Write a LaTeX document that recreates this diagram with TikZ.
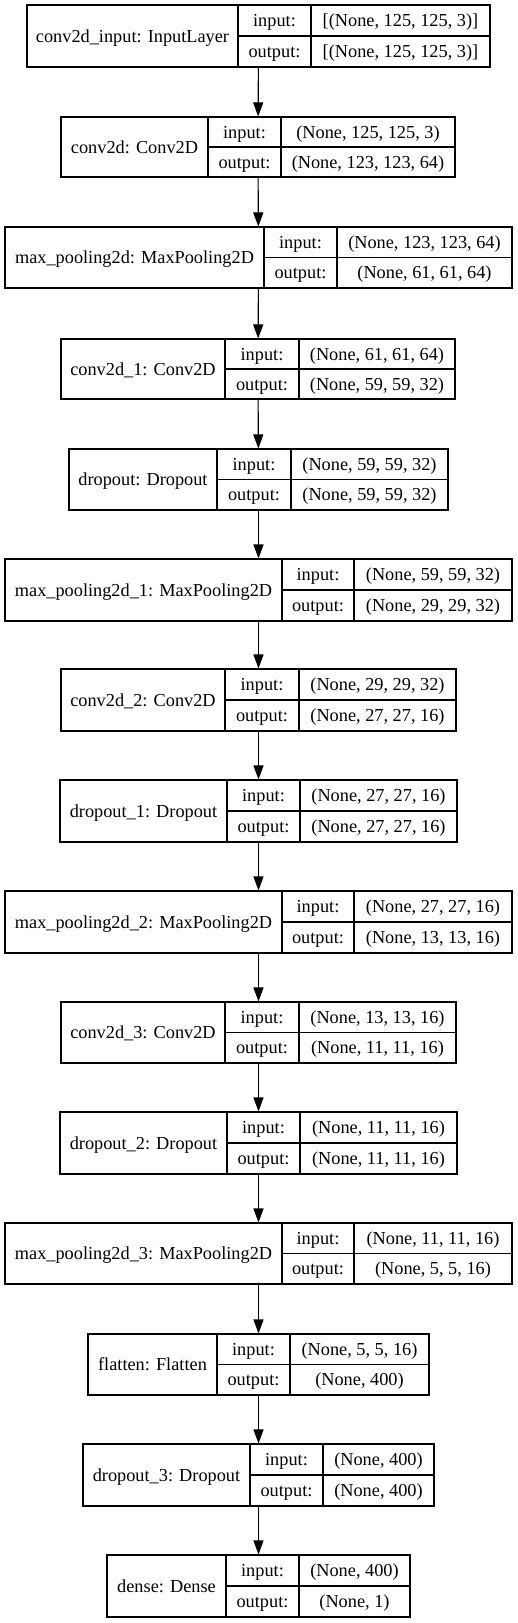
\documentclass[tikz,border=0pt]{standalone}
\usepackage{fontspec}
\setmainfont{Liberation Serif}
\usetikzlibrary{arrows.meta,fit}
\tikzset{
  boxline/.style={draw=black, line width=1.1pt},
  layerbox/.style={draw=black, line width=1.1pt, inner sep=0pt, fit=#1},
  txt/.style={anchor=base, inner sep=0pt, font=\fontsize{18.3}{22}\selectfont},
  flow/.style={-{Triangle[length=14pt,width=10pt]}, line width=1.1pt},
}
\newcommand\lyr[8]{%
  \coordinate (#1-nw) at (#4,#2);
  \coordinate (#1-se) at (#7,#3);
  \node[layerbox={(#1-nw)(#1-se)}] (#1) {};
  \draw[boxline] (#5,#2) -- (#5,#3) (#6,#2) -- (#6,#3) (#5,{(#2+#3)/2}) -- (#7,{(#2+#3)/2});
  \node[txt] (#1-name) at ({(#4+#5)/2},{(#2+#3)/2+6}) {#8};
  \node[txt] (#1-il) at ({(#5+#6)/2},{(3*#2+#3)/4+6}) {input:};
  \node[txt] (#1-ol) at ({(#5+#6)/2},{(#2+3*#3)/4+6}) {output:};
  \coordinate (#1-iv) at ({(#6+#7)/2},{(3*#2+#3)/4+6});
  \coordinate (#1-ov) at ({(#6+#7)/2},{(#2+3*#3)/4+6});
}
\newcommand\shp[3]{%
  \node[txt] (#1-in) at (#1-iv) {#2};
  \node[txt] (#1-out) at (#1-ov) {#3};
}
\begin{document}
\begin{tikzpicture}[x=1pt,y=-1pt]
\useasboundingbox (0,0) rectangle (517,1623);
\lyr{inp}{5}{67}{27}{238}{311}{490}{conv2d\_input: InputLayer}
\shp{inp}{[(None, 125, 125, 3)]}{[(None, 125, 125, 3)]}
\lyr{c0}{117}{177}{61}{208}{281}{455}{conv2d: Conv2D}
\shp{c0}{(None, 125, 125, 3)}{(None, 123, 123, 64)}
\lyr{mp0}{227}{288}{5}{264}{337}{512}{max\_pooling2d: MaxPooling2D}
\shp{mp0}{(None, 123, 123, 64)}{(None, 61, 61, 64)}
\lyr{c1}{339}{399}{61}{225}{299}{455}{conv2d\_1: Conv2D}
\shp{c1}{(None, 61, 61, 64)}{(None, 59, 59, 32)}
\lyr{d0}{449}{510}{69}{217}{291}{448}{dropout: Dropout}
\shp{d0}{(None, 59, 59, 32)}{(None, 59, 59, 32)}
\lyr{mp1}{559}{621}{5}{282}{354}{512}{max\_pooling2d\_1: MaxPooling2D}
\shp{mp1}{(None, 59, 59, 32)}{(None, 29, 29, 32)}
\lyr{c2}{669}{731}{61}{225}{299}{456}{conv2d\_2: Conv2D}
\shp{c2}{(None, 29, 29, 32)}{(None, 27, 27, 16)}
\lyr{d1}{780}{842}{60}{227}{300}{457}{dropout\_1: Dropout}
\shp{d1}{(None, 27, 27, 16)}{(None, 27, 27, 16)}
\lyr{mp2}{891}{953}{5}{282}{354}{512}{max\_pooling2d\_2: MaxPooling2D}
\shp{mp2}{(None, 27, 27, 16)}{(None, 13, 13, 16)}
\lyr{c3}{1002}{1063}{61}{225}{299}{456}{conv2d\_3: Conv2D}
\shp{c3}{(None, 13, 13, 16)}{(None, 11, 11, 16)}
\lyr{d2}{1112}{1174}{60}{227}{300}{457}{dropout\_2: Dropout}
\shp{d2}{(None, 11, 11, 16)}{(None, 11, 11, 16)}
\lyr{mp3}{1223}{1284}{5}{282}{354}{512}{max\_pooling2d\_3: MaxPooling2D}
\shp{mp3}{(None, 11, 11, 16)}{(None, 5, 5, 16)}
\lyr{fl}{1334}{1395}{88}{217}{290}{429}{flatten: Flatten}
\shp{fl}{(None, 5, 5, 16)}{(None, 400)}
\lyr{d3}{1444}{1506}{83}{250}{323}{434}{dropout\_3: Dropout}
\shp{d3}{(None, 400)}{(None, 400)}
\lyr{de}{1555}{1617}{107}{226}{299}{410}{dense: Dense}
\shp{de}{(None, 400)}{(None, 1)}
\foreach \a/\b in {inp/c0,c0/mp0,mp0/c1,c1/d0,d0/mp1,mp1/c2,c2/d1,d1/mp2,mp2/c3,c3/d2,d2/mp3,mp3/fl,fl/d3,d3/de}
  \draw[flow] (\a) -- (\b);
\end{tikzpicture}
\end{document}
